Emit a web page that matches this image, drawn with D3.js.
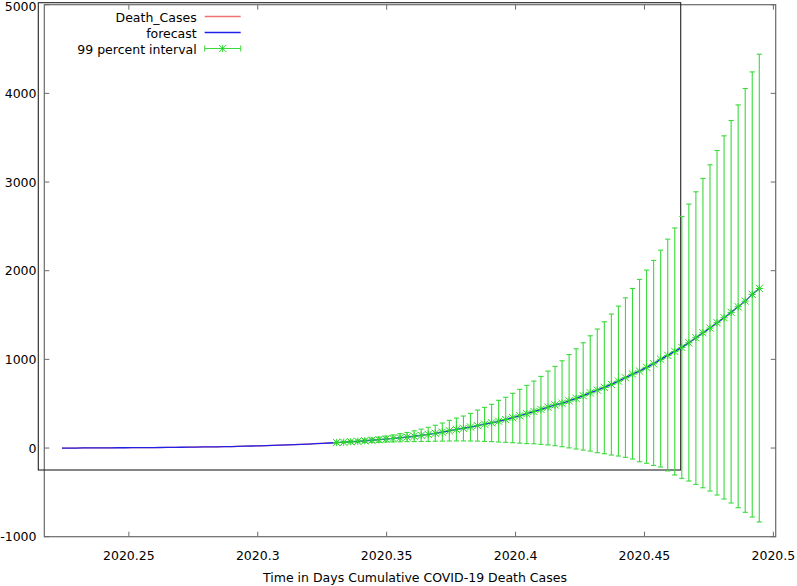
<!DOCTYPE html>
<html>
<head>
<meta charset="utf-8">
<script src="https://cdn.jsdelivr.net/npm/d3@7"></script>
<style>
  html, body { margin: 0; padding: 0; background: #fff; }
  svg { display: block; font-family: "DejaVu Sans", Verdana, sans-serif; }
</style>
</head>
<body>
<svg id="chart" width="797" height="586"></svg>
<script>
// ---- data ----
// day-of-year of 2020 (time value = 2020 + day/366)
const historyDays = [82,83,84,85,86,87,88,89,90,91,92,93,94,95,96,97,98,99,100,101,
  102,103,104,105,106,107,108,109,110,111,112,113,114,115,116,117,118,119,120,121];
const deathCases = [0,0,0,1,1,1,2,2,3,3,4,4,5,5,6,7,8,9,10,11,
  12,13,14,16,17,19,21,23,25,27,29,32,35,38,41,45,49,53,57,62];

const forecastDays = [121,122,123,124,125,126,127,128,129,130,131,132,133,134,135,136,137,138,139,140,
  141,142,143,144,145,146,147,148,149,150,151,152,153,154,155,156,157,158,159,160,
  161,162,163,164,165,166,167,168,169,170,171,172,173,174,175,176,177,178,179,180,181];
const forecastValues = [62,66,71,76,82,88,94,101,108,116,124,133,143,154,166,180,195,210,223,237,
  252,269,285,302,321,342,364,387,412,436,461,486,505,532,560,590,623,654,684,718,
  755,793,834,868,910,950,1000,1045,1090,1135,1187,1244,1300,1353,1413,1469,1530,1593,1657,1733,1800];
const upper99 = [67,74,82,91,101,112,123,135,148,162,176,194,213,234,257,282,312,338,361,391,
  428,459,493,538,572,617,662,707,755,808,868,921,984,1054,1119,1187,1266,1342,1424,1511,
  1601,1694,1800,1902,2007,2116,2232,2356,2482,2612,2751,2890,3041,3194,3356,3521,3694,3870,4055,4242,4442];
const lower99 = [57,58,60,61,63,64,65,67,68,70,72,73,74,75,77,78,79,80,80,79,
  78,75,72,68,64,60,55,50,48,42,35,26,15,2,-11,-23,-34,-53,-64,-79,
  -90,-105,-124,-155,-172,-196,-214,-258,-304,-342,-372,-410,-448,-485,-530,-575,-620,-673,-725,-778,-834];

// historical part of the fitted/forecast line (same as the observed cases)
const forecastHistory = deathCases;

const xTicks = [2020.25, 2020.3, 2020.35, 2020.4, 2020.45, 2020.5];
const xTickLabels = ["2020.25", "2020.3", "2020.35", "2020.4", "2020.45", "2020.5"];
const yTicks = [-1000, 0, 1000, 2000, 3000, 4000, 5000];
const yTickLabels = ["-1000", "0", "1000", "2000", "3000", "4000", "5000"];
const seriesNames = ["Death_Cases", "forecast", "99 percent interval"];
const xLabel = "Time in Days Cumulative COVID-19 Death Cases";

// ---- layout ----
const svg = d3.select("#chart");
const L = 44.3, R = 775.7, T = 4.7, B = 536.7;
const toTime = d => 2020 + d / 366;

const x = d3.scaleLinear().domain([2020.2172, 2020.5009]).range([L, R]);
const y = d3.scaleLinear().domain([-1000, 5000]).range([B, T]);

const colRed = "#f07070", colBlue = "#2020e8", colGreen = "#22d822", colBar = "#3ada3a";
const axisCol = "#6a6a6a";
const fontSize = "12.5px";

// frame
svg.append("rect").attr("x", L).attr("y", T).attr("width", R - L).attr("height", B - T)
  .attr("fill", "none").attr("stroke", axisCol).attr("stroke-width", 1.2);

// ticks (mirrored, inward)
const tl = 5;
xTicks.forEach((t, i) => {
  const px = x(t);
  svg.append("line").attr("x1", px).attr("x2", px).attr("y1", B).attr("y2", B - tl).attr("stroke", axisCol);
  svg.append("line").attr("x1", px).attr("x2", px).attr("y1", T).attr("y2", T + tl).attr("stroke", axisCol);
  svg.append("text").attr("x", px).attr("y", 559.5).attr("text-anchor", "middle")
    .attr("font-size", fontSize).attr("fill", "#000").text(xTickLabels[i]);
});
yTicks.forEach((t, i) => {
  const py = y(t);
  svg.append("line").attr("x1", L).attr("x2", L + tl).attr("y1", py).attr("y2", py).attr("stroke", axisCol);
  svg.append("line").attr("x1", R).attr("x2", R - tl).attr("y1", py).attr("y2", py).attr("stroke", axisCol);
  svg.append("text").attr("x", 36.5).attr("y", Math.max(py + 4.5, 10.5)).attr("text-anchor", "end")
    .attr("font-size", fontSize).attr("fill", "#000").text(yTickLabels[i]);
});

// x label
svg.append("text").attr("x", 415).attr("y", 582).attr("text-anchor", "middle")
  .attr("font-size", fontSize).attr("fill", "#000").text(xLabel);

// stray black frame from the original figure
svg.append("rect").attr("x", 38.3).attr("y", 2.7).attr("width", 680.7 - 38.3).attr("height", 470 - 2.7)
  .attr("fill", "none").attr("stroke", "#222").attr("stroke-width", 1.1);

// lines
const line = d3.line().x(d => x(toTime(d[0]))).y(d => y(d[1]));
svg.append("path").datum(historyDays.map((d, i) => [d, deathCases[i]]))
  .attr("d", line).attr("fill", "none").attr("stroke", colRed).attr("stroke-width", 1.2);
const fullForecast = historyDays.map((d, i) => [d, forecastHistory[i]])
  .concat(forecastDays.slice(1).map((d, i) => [d, forecastValues[i + 1]]));
svg.append("path").datum(fullForecast)
  .attr("d", line).attr("fill", "none").attr("stroke", colBlue).attr("stroke-width", 1.3);

// error bars
const cap = 2.6, ast = 3.6;
const gBars = svg.append("g");
forecastDays.forEach((d, i) => {
  const px = x(toTime(d));
  const yu = y(upper99[i]), yl = y(lower99[i]), yc = y(forecastValues[i]);
  gBars.append("line").attr("x1", px).attr("x2", px).attr("y1", yu).attr("y2", yl).attr("stroke", colBar).attr("stroke-width", 1.1);
  gBars.append("line").attr("x1", px - cap).attr("x2", px + cap).attr("y1", yu).attr("y2", yu).attr("stroke", colBar).attr("stroke-width", 1.1);
  gBars.append("line").attr("x1", px - cap).attr("x2", px + cap).attr("y1", yl).attr("y2", yl).attr("stroke", colBar).attr("stroke-width", 1.1);
  // asterisk point
  const p = d3.path();
  p.moveTo(px - ast, yc - ast); p.lineTo(px + ast, yc + ast);
  p.moveTo(px - ast, yc + ast); p.lineTo(px + ast, yc - ast);
  p.moveTo(px - ast, yc); p.lineTo(px + ast, yc);
  p.moveTo(px, yc - ast); p.lineTo(px, yc + ast);
  gBars.append("path").attr("d", p.toString()).attr("stroke", colGreen).attr("stroke-width", 1).attr("fill", "none");
});

// legend
const legRows = [21.5, 37.5, 53.5];
const lx0 = 204.7, lx1 = 240.7;
seriesNames.forEach((name, i) => {
  const by = legRows[i];
  svg.append("text").attr("x", 196.7).attr("y", by).attr("text-anchor", "end")
    .attr("font-size", fontSize).attr("fill", "#000").text(name);
  const ly = by - 5;
  if (i < 2) {
    svg.append("line").attr("x1", lx0).attr("x2", lx1).attr("y1", ly).attr("y2", ly)
      .attr("stroke", i === 0 ? colRed : colBlue).attr("stroke-width", 1.3);
  } else {
    svg.append("line").attr("x1", lx0).attr("x2", lx1).attr("y1", ly).attr("y2", ly).attr("stroke", colBar);
    svg.append("line").attr("x1", lx0).attr("x2", lx0).attr("y1", ly - 3).attr("y2", ly + 3).attr("stroke", colBar);
    svg.append("line").attr("x1", lx1).attr("x2", lx1).attr("y1", ly - 3).attr("y2", ly + 3).attr("stroke", colBar);
    const cx = (lx0 + lx1) / 2;
    const p = d3.path();
    p.moveTo(cx - ast, ly - ast); p.lineTo(cx + ast, ly + ast);
    p.moveTo(cx - ast, ly + ast); p.lineTo(cx + ast, ly - ast);
    p.moveTo(cx, ly - ast); p.lineTo(cx, ly + ast);
    svg.append("path").attr("d", p.toString()).attr("stroke", colGreen).attr("fill", "none");
  }
});
</script>
</body>
</html>
